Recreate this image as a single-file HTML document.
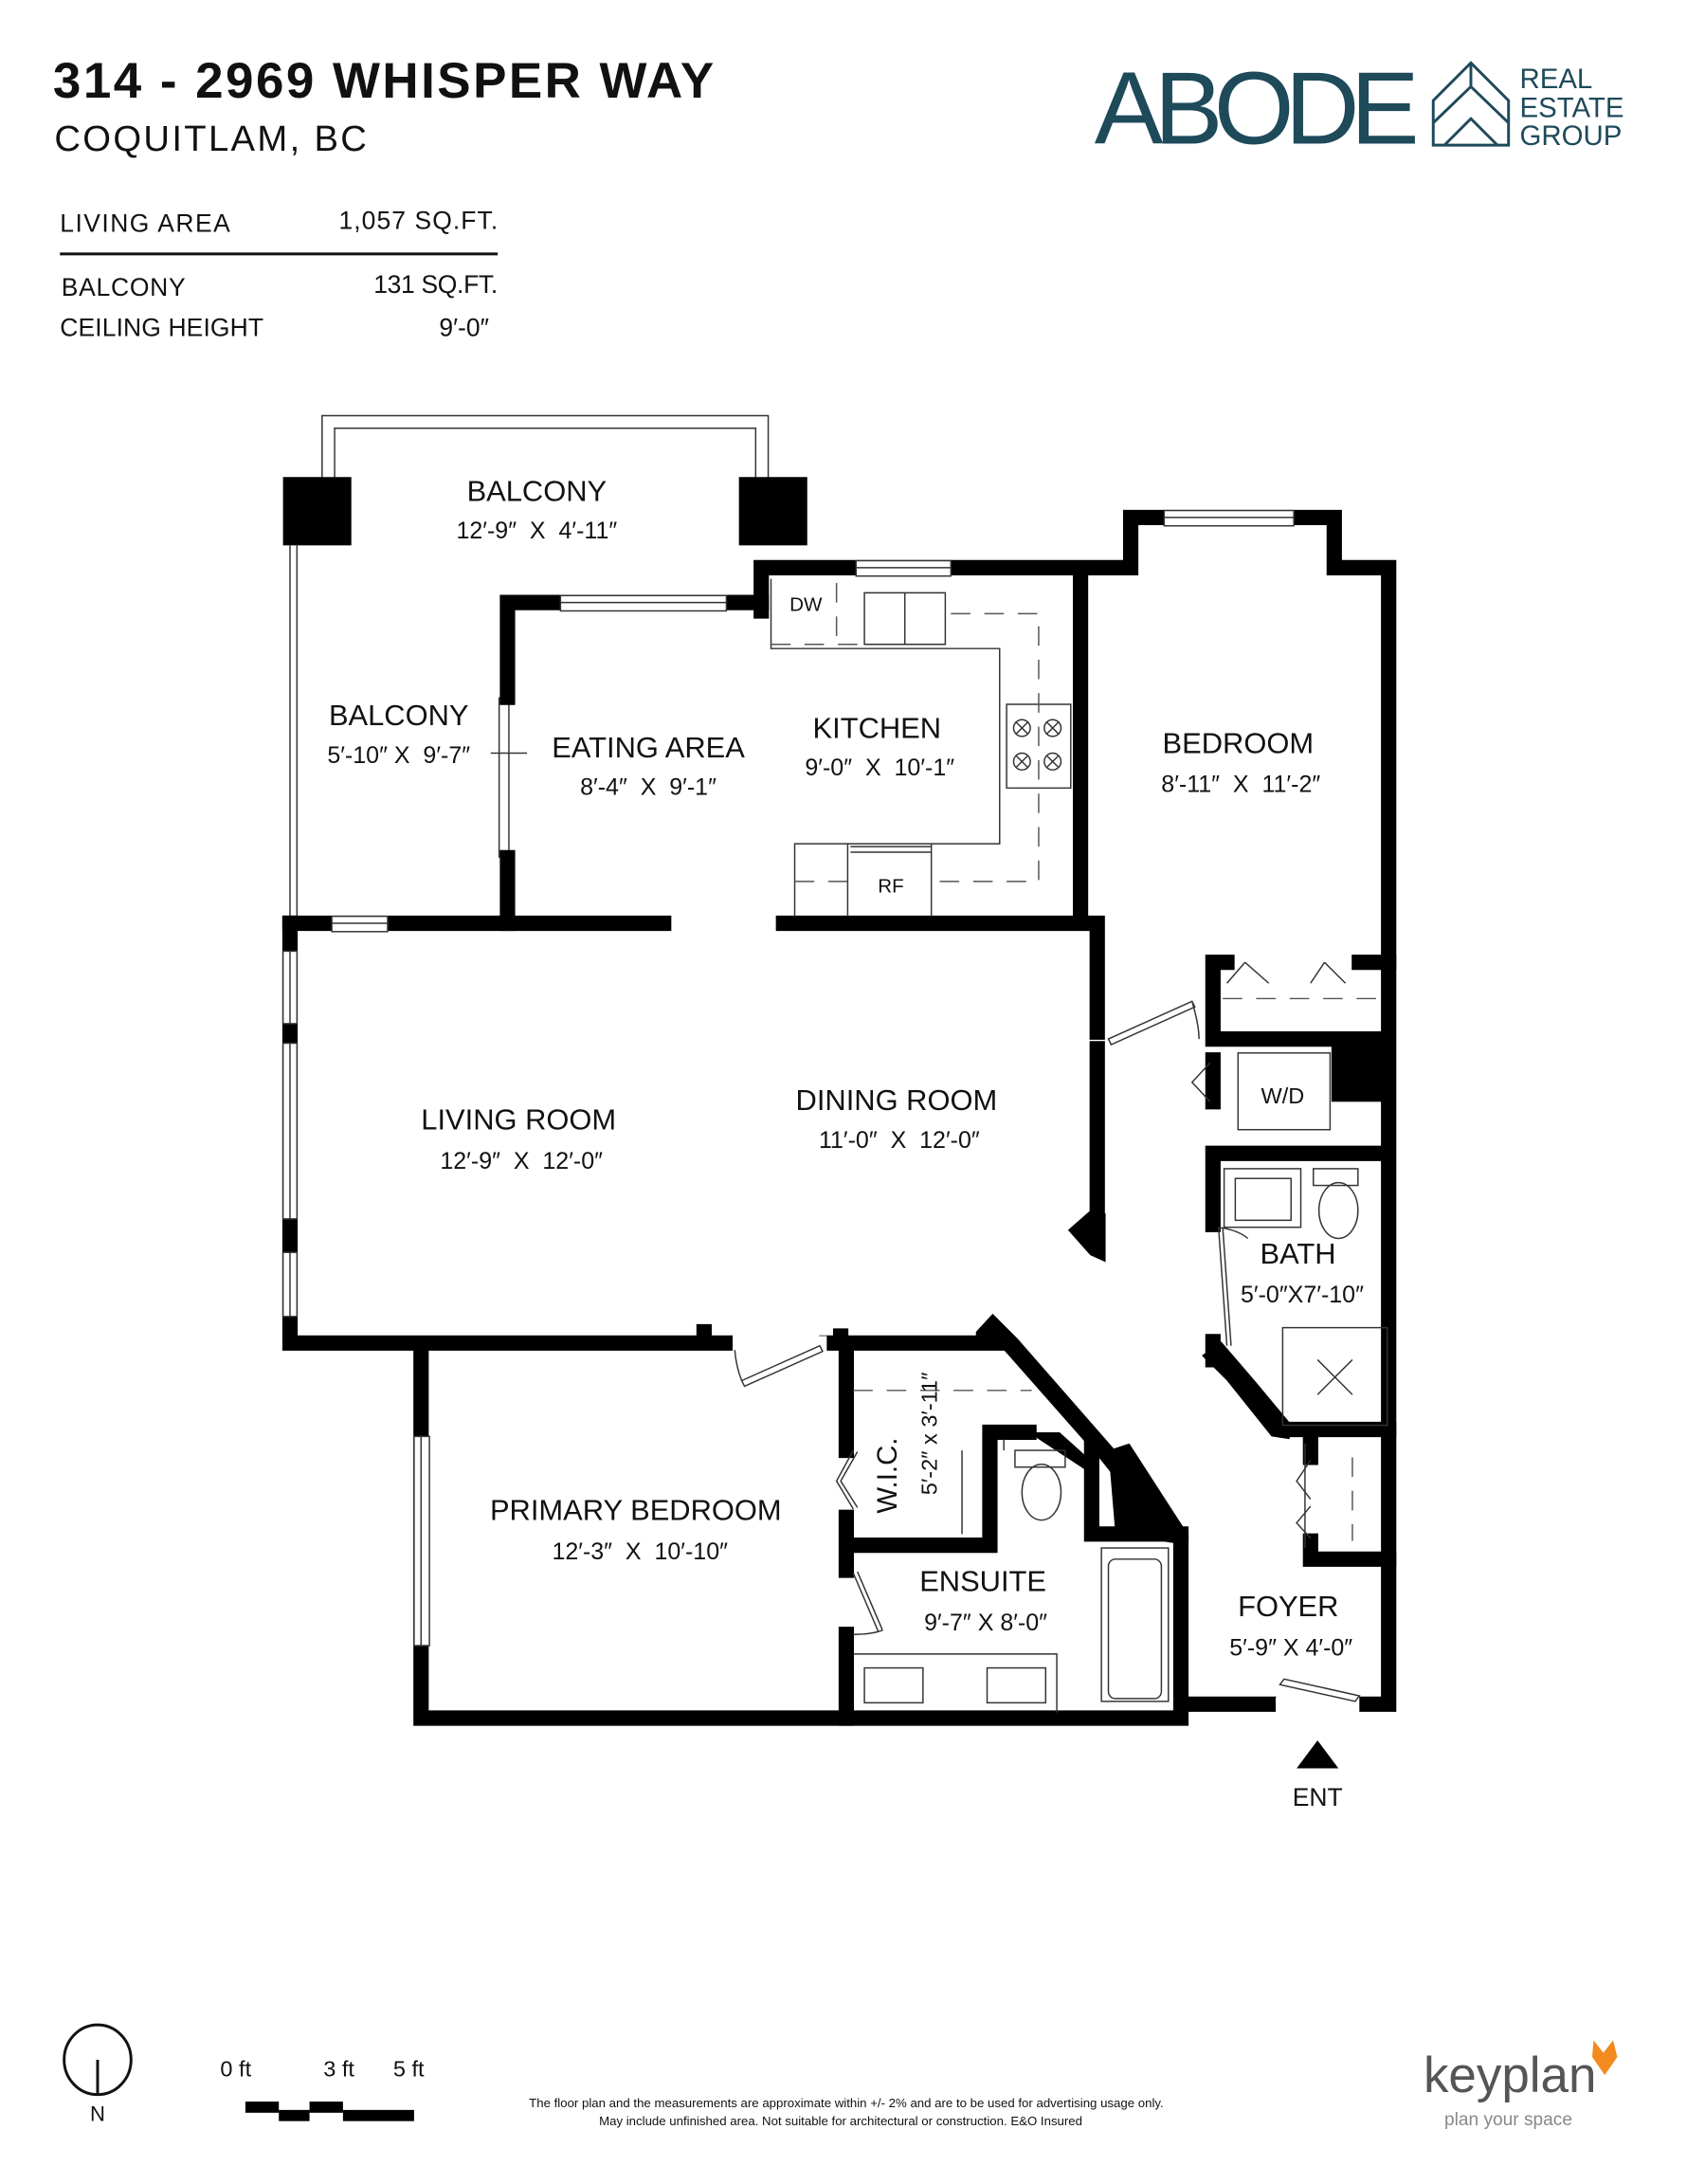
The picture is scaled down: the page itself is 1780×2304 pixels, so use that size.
<!DOCTYPE html>
<html><head><meta charset="utf-8"><style>
html,body{margin:0;padding:0;background:#fff}
svg{display:block}
text{font-family:"Liberation Sans",sans-serif;fill:#111}
.r{font-size:21px;text-anchor:middle}
.d{font-size:17px;text-anchor:middle;white-space:pre}
</style></head><body>
<svg width="1780" height="2304" viewBox="0 0 1210 1566" xmlns="http://www.w3.org/2000/svg">
<rect width="1210" height="1566" fill="#fff"/>
<!-- header -->
<text x="38" y="70" font-size="36" font-weight="bold" textLength="474">314 - 2969 WHISPER WAY</text>
<text x="39" y="108" font-size="26" textLength="224">COQUITLAM, BC</text>
<text x="43" y="166" font-size="18" textLength="122">LIVING AREA</text>
<text x="243" y="164" font-size="18" textLength="114">1,057 SQ.FT.</text>
<line x1="43" y1="182" x2="357" y2="182" stroke="#111" stroke-width="2"/>
<text x="44" y="212" font-size="18" textLength="89">BALCONY</text>
<text x="268" y="210" font-size="18" textLength="89">131 SQ.FT.</text>
<text x="43" y="241" font-size="18" textLength="146">CEILING HEIGHT</text>
<text x="315" y="241" font-size="18">9′-0″</text>
<!-- logo -->
<text x="785" y="103" font-size="74" fill="#1e4a5a" style="fill:#1e4a5a" textLength="233">ABODE</text>
<g fill="none" stroke="#1e4a5a" stroke-width="2">
<path d="M1055 45 L1082 72 L1082 104 L1028 104 L1028 72 Z"/>
<path d="M1028 88 L1055 62 L1082 88 M1036 104 L1055 85 L1074 104 M1055 45 L1055 62"/>
</g>
<text x="1090" y="63" font-size="20" style="fill:#1e4a5a">REAL</text>
<text x="1090" y="84" font-size="20" style="fill:#1e4a5a">ESTATE</text>
<text x="1090" y="104" font-size="20" style="fill:#1e4a5a">GROUP</text>

<!-- balcony railing -->
<g fill="none" stroke="#333" stroke-width="1">
<path d="M231 345 V298 H551 V345"/>
<path d="M240 345 V307 H542 V345"/>
<path d="M208 391 V660 M213 391 V660"/>
<path d="M358 500 V615 M365 500 V615 M352 540 H378"/>
</g>
<rect x="203" y="342" width="49" height="49" fill="#000"/>
<rect x="530" y="342" width="49" height="49" fill="#000"/>

<!-- walls -->
<g fill="none" stroke="#000" stroke-width="11" stroke-linecap="square">
<path d="M546 438 V407 H811 V371 H957 V407 H996 V1222 H980"/>
<path d="M364 500 V432 H546"/>
<path d="M364 615 V662"/>
<path d="M208 662 H476"/>
<path d="M562 662 H787 V740"/>
<path d="M775 413 V660"/>
<path d="M787 752 V872"/>
<path d="M208 662 V963 H520"/>
<path d="M593 963 H715"/>
<path d="M302 968 V1232 H847 V1105"/>
<path d="M857 1222 H910"/>
<path d="M607 968 V1040 M607 1088 V1108 H710 V1027 H738 M607 1108 V1126 M607 1172 V1232"/>
<path d="M783 1038 V1100 H847"/>
<path d="M870 690 V745 H990 M870 690 H880 M975 690 H996"/>
<path d="M870 760 V790"/>
<path d="M870 827 H990 M870 827 V878 M870 962 V975"/>
<path d="M925 1025 H996"/>
<path d="M940 1035 V1045 M940 1105 V1118 H996"/>
<path d="M505 955 V958 M603 958 V960"/>
</g>
<!-- diagonal walls -->
<g fill="#000">
<polygon points="700,955 712,942 730,960 800,1040 800,1060 788,1045 720,968 700,968"/>
<polygon points="795,1040 810,1035 852,1100 852,1108 800,1100"/>
<polygon points="766,882 782,868 793,870 793,905 782,900"/>
<polygon points="862,972 876,962 900,990 925,1020 925,1032 912,1030 880,990"/>
<rect x="955" y="740" width="46" height="50"/>
<polygon points="742,1027 760,1027 780,1045 780,1055 742,1030"/>
</g>
<!-- windows -->
<g fill="#fff" stroke="#333" stroke-width="1">
<rect x="614" y="402" width="68" height="11"/>
<rect x="835" y="366" width="93" height="11"/>
<rect x="402" y="427" width="119" height="11"/>
<rect x="238" y="657" width="40" height="11"/>
<rect x="203" y="682" width="10" height="52"/>
<rect x="203" y="748" width="10" height="126"/>
<rect x="203" y="898" width="10" height="46"/>
<rect x="297" y="1030" width="11" height="150"/>
<rect x="527" y="958" width="66" height="11" stroke="none"/>
<rect x="915" y="1217" width="60" height="11" stroke="none"/>
</g>
<g fill="none" stroke="#333" stroke-width="1">
<line x1="835" y1="371" x2="928" y2="371"/><line x1="614" y1="407" x2="682" y2="407"/>
<line x1="402" y1="432" x2="521" y2="432"/><line x1="238" y1="662" x2="278" y2="662"/>
<line x1="208" y1="682" x2="208" y2="734"/><line x1="208" y1="748" x2="208" y2="874"/><line x1="208" y1="898" x2="208" y2="944"/>
<line x1="302" y1="1030" x2="302" y2="1180"/>
<path d="M532 990 L588 965 L590 969 L534 994 Z M527 968 Q528 980 532 990"/>
<path d="M795 745 L855 718 L857 722 L797 749 Z M855 718 Q860 735 860 745"/>
<path d="M612 1128 L630 1170 M615 1127 L633 1169 M633 1169 Q625 1172 612 1172"/>
<path d="M612 1040 L600 1062 L612 1082 M615 1041 L603 1062 L615 1081"/>
<path d="M874 880 L880 965 M877 880 L883 965 M874 880 Q888 882 895 888"/>
<path d="M868 762 L855 776 L868 790"/>
<path d="M940 1047 L930 1062 L940 1075 M940 1080 L930 1092 L940 1103"/>
<path d="M918 1208 L972 1220 L975 1216 L921 1204 Z"/>
<path d="M893 690 L880 705 M893 690 L910 705 M950 690 L940 705 M950 690 L965 705"/>
<path d="M553 415 V465 H717 V605 H570 V657"/>
<path d="M608 605 V657 M668 605 V657 M610 607 H668 M610 611 H668"/>
<path d="M620 425 H678 V462 H620 Z M649 425 V462"/>
<path d="M722 505 H768 V565 H722 Z"/>
<circle cx="733" cy="522" r="6"/><circle cx="755" cy="522" r="6"/><circle cx="733" cy="546" r="6"/><circle cx="755" cy="546" r="6"/>
<path d="M729 518 L737 526 M737 518 L729 526 M751 518 L759 526 M759 518 L751 526 M729 542 L737 550 M737 542 L729 550 M751 542 L759 550 M759 542 L751 550"/>
<rect x="888" y="755" width="66" height="55"/>
<rect x="878" y="838" width="55" height="42"/><rect x="886" y="845" width="40" height="30"/>
<rect x="942" y="838" width="32" height="12"/><ellipse cx="960" cy="868" rx="14" ry="20"/>
<rect x="920" y="952" width="75" height="70"/><path d="M945 975 L970 1000 M970 975 L945 1000"/>
<rect x="728" y="1040" width="36" height="12"/><ellipse cx="747" cy="1070" rx="14" ry="20"/>
<rect x="790" y="1110" width="48" height="110"/><rect x="795" y="1118" width="38" height="100" rx="5"/>
<path d="M612 1186 H758 V1228 M690 1040 V1100 M720 1032 V1040"/>
<rect x="620" y="1196" width="42" height="25"/><rect x="708" y="1196" width="42" height="25"/>
<path d="M936 1035 V1110"/>
</g>
<g fill="none" stroke="#555" stroke-width="1" stroke-dasharray="14,10">
<path d="M553 462 H616 M600 418 V462 M682 440 H745 V632 H670 M570 632 H608"/>
<path d="M877 716 H995"/>
<path d="M612 997 H740"/>
<path d="M970 1045 V1105"/>
</g>

<!-- labels -->
<text class="r" x="385" y="359">BALCONY</text><text class="d" x="385" y="386">12′-9″  X  4′-11″</text>
<text class="r" x="286" y="520">BALCONY</text><text class="d" x="286" y="547">5′-10″ X  9′-7″</text>
<text class="r" x="465" y="543">EATING AREA</text><text class="d" x="465" y="570">8′-4″  X  9′-1″</text>
<text class="r" x="629" y="529">KITCHEN</text><text class="d" x="631" y="556">9′-0″  X  10′-1″</text>
<text class="r" x="888" y="540">BEDROOM</text><text class="d" x="890" y="568">8′-11″  X  11′-2″</text>
<text class="r" x="372" y="810">LIVING ROOM</text><text class="d" x="374" y="838">12′-9″  X  12′-0″</text>
<text class="r" x="643" y="796">DINING ROOM</text><text class="d" x="645" y="823">11′-0″  X  12′-0″</text>
<text x="920" y="791" font-size="16" text-anchor="middle">W/D</text>
<text class="r" x="931" y="906">BATH</text><text class="d" x="934" y="934">5′-0″X7′-10″</text>
<text class="r" x="456" y="1090">PRIMARY BEDROOM</text><text class="d" x="459" y="1118">12′-3″  X  10′-10″</text>
<text class="r" x="705" y="1141">ENSUITE</text><text class="d" x="707" y="1169">9′-7″ X 8′-0″</text>
<text class="r" x="924" y="1159">FOYER</text><text class="d" x="926" y="1187">5′-9″ X 4′-0″</text>
<text x="578" y="438" font-size="14" text-anchor="middle">DW</text>
<text x="639" y="640" font-size="14" text-anchor="middle">RF</text>
<text transform="translate(643,1058) rotate(-90)" font-size="20" text-anchor="middle">W.I.C.</text>
<text transform="translate(672,1028) rotate(-90)" font-size="16" text-anchor="middle">5′-2″ x 3′-11″</text>
<polygon points="930,1268 960,1268 945,1248" fill="#000"/>
<text x="945" y="1295" font-size="18" text-anchor="middle">ENT</text>

<!-- footer -->
<ellipse cx="70" cy="1477" rx="24" ry="25" fill="none" stroke="#111" stroke-width="2"/>
<line x1="70" y1="1477" x2="70" y2="1502" stroke="#111" stroke-width="2"/>
<text x="70" y="1521" font-size="15" text-anchor="middle">N</text>
<text x="158" y="1489" font-size="16">0 ft</text>
<text x="232" y="1489" font-size="16">3 ft</text>
<text x="282" y="1489" font-size="16">5 ft</text>
<rect x="176" y="1507" width="24" height="8" fill="#000"/>
<rect x="200" y="1513" width="22" height="8" fill="#000"/>
<rect x="222" y="1507" width="24" height="8" fill="#000"/>
<rect x="246" y="1513" width="51" height="8" fill="#000"/>
<text x="607" y="1511" font-size="9" text-anchor="middle">The floor plan and the measurements are approximate within +/- 2% and are to be used for advertising usage only.</text>
<text x="603" y="1524" font-size="9" text-anchor="middle">May include unfinished area. Not suitable for architectural or construction. E&amp;O Insured</text>
<text x="1021" y="1500" font-size="36" style="fill:#555">keyplan</text>
<text x="1036" y="1524" font-size="13" style="fill:#888">plan your space</text>
<polygon points="1143,1463 1150,1472 1157,1463 1160,1475 1151,1488 1142,1475" fill="#f28a1e"/>
</svg>
</body></html>
